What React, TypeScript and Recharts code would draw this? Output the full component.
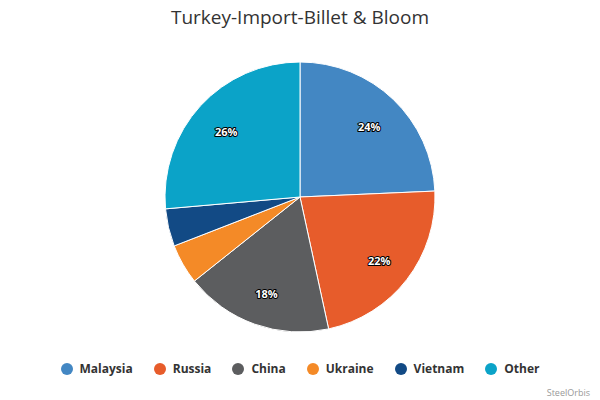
import { Cell, Pie, PieChart } from "recharts"

const countries = ["Malaysia", "Russia", "China", "Ukraine", "Vietnam", "Other"]
const shares = [24.3, 22.3, 17.7, 4.8, 4.5, 26.4]
const colors = ["#4387c3", "#e75c2b", "#5c5d5f", "#f48a27", "#124a85", "#0ba3c8"]

const data = countries.map((name, i) => ({ name, value: shares[i], color: colors[i] }))

const RADIAN = Math.PI / 180

function renderLabel(props: any) {
  const { cx, cy, midAngle, outerRadius, percent } = props
  if (percent < 0.1) return null
  const r = outerRadius - 35
  const x = cx + r * Math.cos(-midAngle * RADIAN)
  const y = cy + r * Math.sin(-midAngle * RADIAN) + 2
  return (
    <text
      x={x}
      y={y}
      textAnchor="middle"
      dominantBaseline="central"
      fill="#fff"
      stroke="#000"
      strokeWidth={2}
      paintOrder="stroke"
      strokeLinejoin="round"
      fontSize={11}
      fontWeight="bold"
      fontFamily="'Open Sans', sans-serif"
    >
      {`${Math.round(percent * 100)}%`}
    </text>
  )
}

export default function App() {
  return (
    <div style={{ position: "relative", width: 600, height: 400, background: "#fff", fontFamily: "'Open Sans', sans-serif" }}>
      <style>{`body{margin:0}`}</style>
      <div
        style={{
          position: "absolute",
          top: 4,
          left: 0,
          width: 600,
          textAlign: "center",
          fontSize: 19,
          color: "#333",
        }}
      >
        Turkey-Import-Billet &amp; Bloom
      </div>
      <PieChart width={600} height={400} margin={{ top: 0, right: 0, bottom: 0, left: 0 }}>
        <Pie
          data={data}
          dataKey="value"
          nameKey="name"
          cx={300}
          cy={197}
          outerRadius={135}
          startAngle={90}
          endAngle={-270}
          stroke="#fff"
          strokeWidth={1}
          labelLine={false}
          label={renderLabel}
          isAnimationActive={false}
        >
          {data.map((entry, index) => (
            <Cell key={`cell-${index}`} fill={entry.color} />
          ))}
        </Pie>
      </PieChart>
      <div
        style={{
          position: "absolute",
          top: 360,
          left: 0,
          width: 600,
          display: "flex",
          justifyContent: "center",
          gap: 21,
        }}
      >
        {data.map((entry, index) => (
          <div key={`legend-${index}`} style={{ display: "flex", alignItems: "center", gap: 7 }}>
            <div style={{ width: 12, height: 12, borderRadius: 6, background: entry.color }} />
            <span style={{ fontSize: 12, fontWeight: "bold", color: "#333" }}>{entry.name}</span>
          </div>
        ))}
      </div>
      <div style={{ position: "absolute", right: 10, top: 386, fontSize: 9, color: "#999" }}>SteelOrbis</div>
    </div>
  )
}
